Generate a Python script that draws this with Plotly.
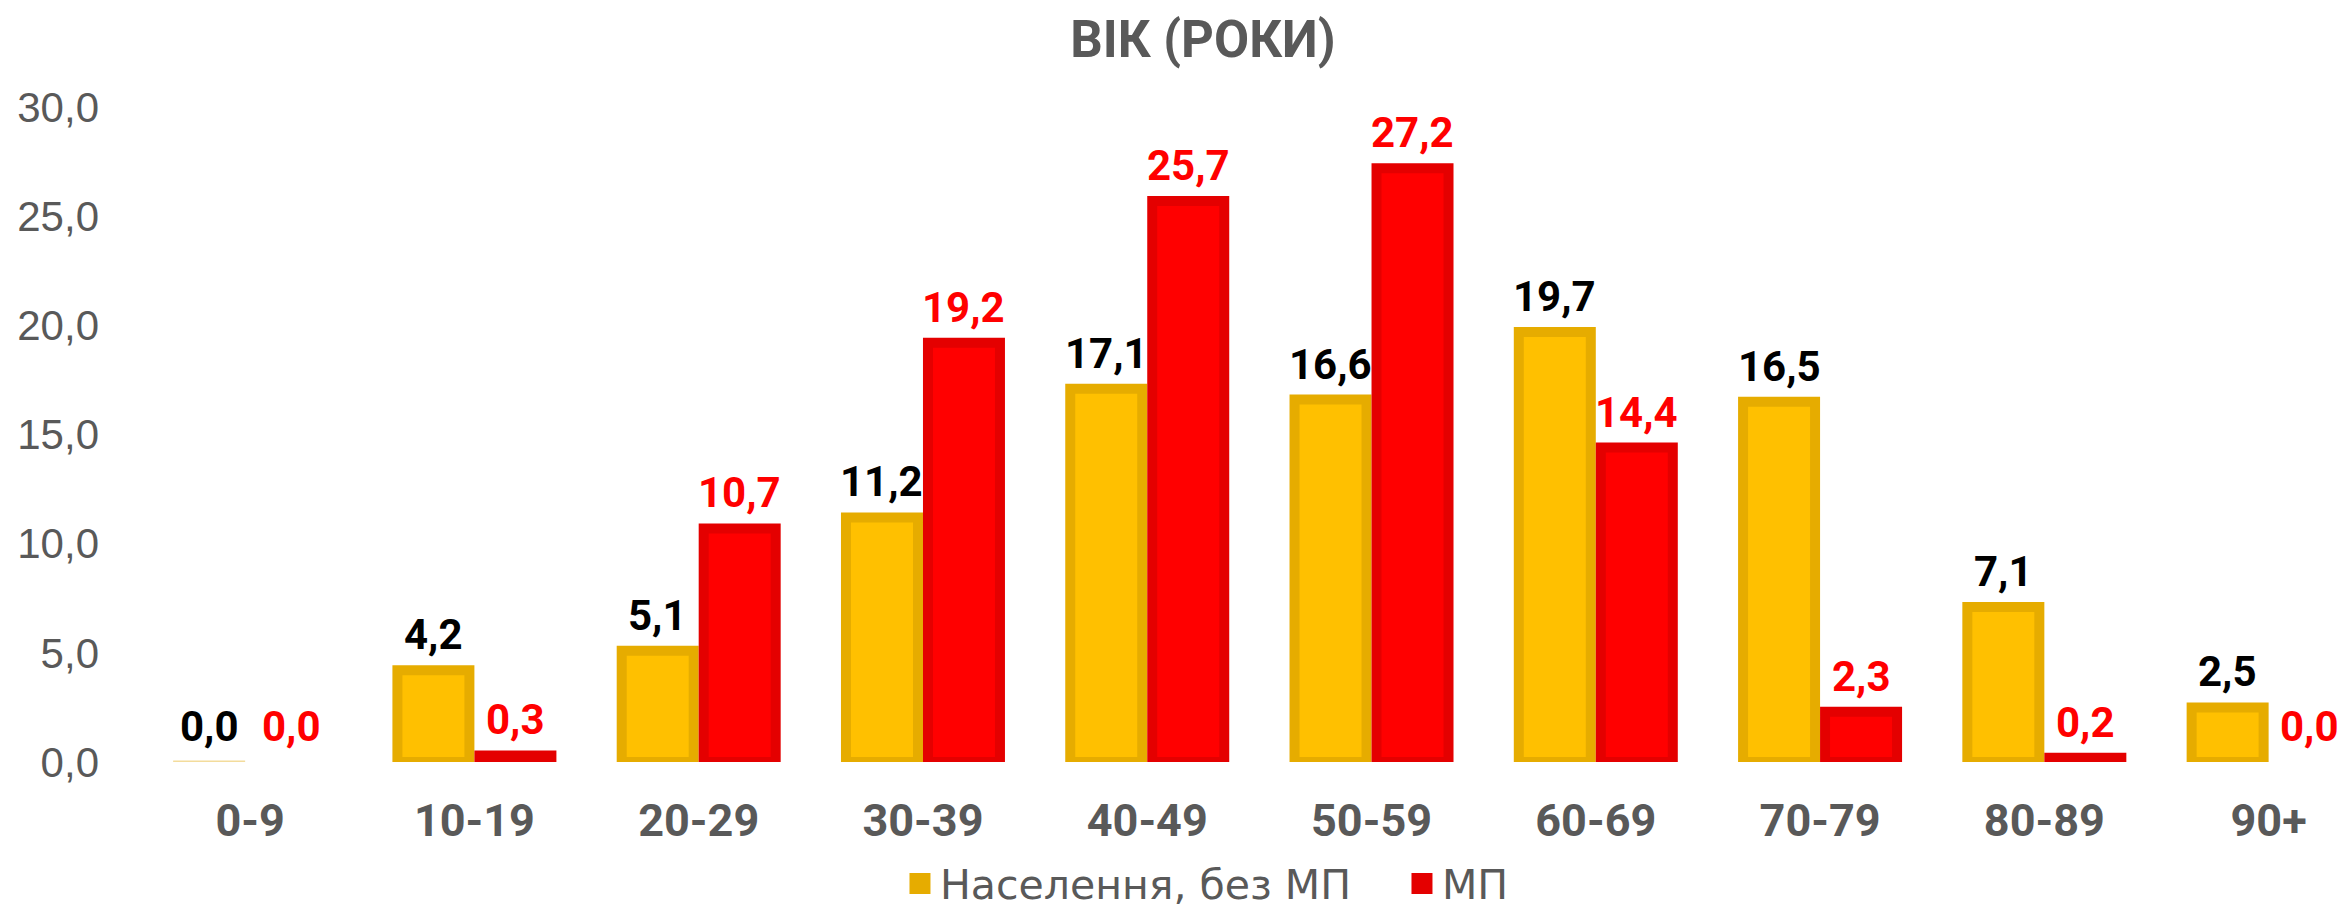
import plotly.graph_objects as go

categories = ["0-9", "10-19", "20-29", "30-39", "40-49", "50-59", "60-69", "70-79", "80-89", "90+"]
population = [0.0, 4.2, 5.1, 11.2, 17.1, 16.6, 19.7, 16.5, 7.1, 2.5]
mp = [0.0, 0.3, 10.7, 19.2, 25.7, 27.2, 14.4, 2.3, 0.2, 0.0]
name_pop = "Населення, без МП"
name_mp = "МП"
title_text = "ВІК (РОКИ)"

YEL_FILL, YEL_LINE, YEL_ZERO = "#FFC000", "#E6AC00", "#F3DC9C"
RED_FILL, RED_LINE = "#FF0000", "#E40000"
GRAY = "#595959"


def fmt(v):
    return f"{v:.1f}".replace(".", ",")


# outline styling: zero-height bars get only a faint hairline (yellow) or nothing (red)
pop_lw = [10 if v > 0 else 3 for v in population]
pop_lc = [YEL_LINE if v > 0 else YEL_ZERO for v in population]
mp_lw = [10 if v > 0 else 0 for v in mp]

fig = go.Figure()
fig.add_trace(go.Bar(
    x=categories, y=population, name=name_pop, showlegend=False,
    marker=dict(color=YEL_FILL, line=dict(color=pop_lc, width=pop_lw)),
))
fig.add_trace(go.Bar(
    x=categories, y=mp, name=name_mp, showlegend=False,
    marker=dict(color=RED_FILL, line=dict(color=RED_LINE, width=mp_lw)),
))
# legend entries
fig.add_trace(go.Scatter(x=[None], y=[None], mode="markers", name=name_pop,
                         marker=dict(symbol="square", size=16, color=YEL_LINE,
                                     line=dict(color=YEL_LINE, width=5))))
fig.add_trace(go.Scatter(x=[None], y=[None], mode="markers", name=name_mp,
                         marker=dict(symbol="square", size=16, color=RED_LINE,
                                     line=dict(color=RED_LINE, width=5))))

# value labels above each bar
BAR_SHIFT = 41
for cat, v in zip(categories, population):
    fig.add_annotation(x=cat, y=v, text=fmt(v), showarrow=False, xshift=-BAR_SHIFT,
                       yshift=9, yanchor="bottom",
                       font=dict(family="Roboto", size=42, color="#000000", weight="bold"))
for cat, v in zip(categories, mp):
    fig.add_annotation(x=cat, y=v, text=fmt(v), showarrow=False, xshift=BAR_SHIFT,
                       yshift=9, yanchor="bottom",
                       font=dict(family="Roboto", size=42, color="#FF0000", weight="bold"))

fig.update_layout(
    width=2338, height=903,
    margin=dict(l=130, r=0, t=99, b=149, autoexpand=False),
    paper_bgcolor="white", plot_bgcolor="white",
    separators=", ",
    barmode="group", bargap=0.2688, bargroupgap=0.122,
    title=dict(text=title_text, x=0.5111, xref="container", xanchor="center",
               y=1.0, yref="container", yanchor="top", pad=dict(t=13),
               font=dict(family="Roboto", size=51, color=GRAY, weight="bold")),
    xaxis=dict(type="category", range=[-0.5, 9.345], showgrid=False, zeroline=False,
               showline=False, ticks="", ticklabelstandoff=28,
               tickfont=dict(family="Roboto", size=45, color=GRAY, weight="bold")),
    yaxis=dict(range=[0, 30], dtick=5, tickformat=".1f", showgrid=False, zeroline=False,
               showline=False, ticks="", ticklabelstandoff=38,
               tickfont=dict(family="Liberation Sans", size=42, color=GRAY)),
    legend=dict(orientation="h", x=0.3451, xanchor="left", y=-0.186, yanchor="middle",
                entrywidth=457, entrywidthmode="pixels",
                font=dict(family="DejaVu Sans", size=41, color=GRAY),
                bgcolor="rgba(0,0,0,0)"),
)

fig.write_html("out.html")
